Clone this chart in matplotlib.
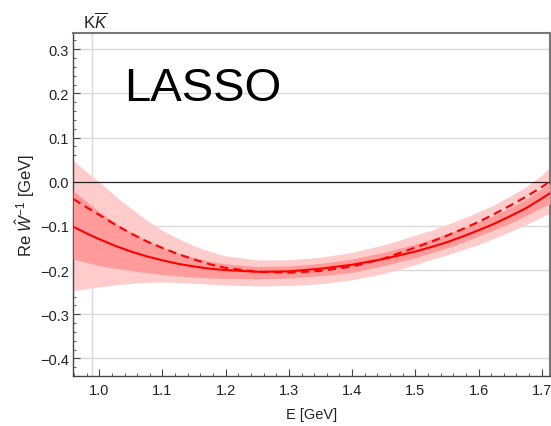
import numpy as np
import matplotlib
matplotlib.use("Agg")
import matplotlib.pyplot as plt
from matplotlib.ticker import MultipleLocator

plt.rcParams['font.family'] = ['Liberation Sans', 'DejaVu Sans']
plt.rcParams['mathtext.fontset'] = 'custom'
plt.rcParams['mathtext.rm'] = 'Liberation Sans'
plt.rcParams['mathtext.it'] = 'Liberation Sans:italic'
plt.rcParams['mathtext.bf'] = 'Liberation Sans:bold'

# Energy grid (GeV)
energy = [0.959, 0.98, 1.0, 1.025, 1.05, 1.075, 1.1, 1.125, 1.15, 1.175,
          1.2, 1.25, 1.3, 1.35, 1.4, 1.45, 1.5, 1.525, 1.55, 1.575,
          1.6, 1.625, 1.65, 1.675, 1.7, 1.713]

# Central LASSO result (solid) and alternative result (dashed)
central = [-0.102, -0.117, -0.130, -0.145, -0.158, -0.169, -0.178, -0.186, -0.192, -0.197,
           -0.200, -0.204, -0.203, -0.197, -0.188, -0.175, -0.158, -0.148, -0.137, -0.124,
           -0.110, -0.095, -0.078, -0.060, -0.038, -0.026]
alternative = [-0.039, -0.058, -0.075, -0.097, -0.117, -0.135, -0.150, -0.164, -0.176, -0.187,
               -0.195, -0.204, -0.206, -0.202, -0.192, -0.174, -0.149, -0.136, -0.122, -0.107,
               -0.091, -0.073, -0.054, -0.034, -0.012, 0.001]

# Inner uncertainty band
inner_hi = [-0.020, -0.045, -0.068, -0.093, -0.114, -0.133, -0.149, -0.162, -0.172, -0.180,
            -0.186, -0.192, -0.191, -0.185, -0.175, -0.160, -0.141, -0.130, -0.118, -0.105,
            -0.091, -0.076, -0.059, -0.040, -0.016, -0.004]
inner_lo = [-0.175, -0.183, -0.190, -0.196, -0.201, -0.206, -0.210, -0.213, -0.216, -0.218,
            -0.219, -0.220, -0.218, -0.213, -0.205, -0.190, -0.172, -0.161, -0.150, -0.137,
            -0.123, -0.109, -0.094, -0.077, -0.058, -0.050]

# Outer uncertainty band
outer_hi = [0.048, 0.022, 0.000, -0.032, -0.060, -0.087, -0.110, -0.129, -0.145, -0.158,
            -0.168, -0.177, -0.177, -0.171, -0.160, -0.143, -0.121, -0.110, -0.097, -0.083,
            -0.068, -0.052, -0.032, -0.012, 0.015, 0.033]
outer_lo = [-0.247, -0.242, -0.238, -0.234, -0.230, -0.228, -0.227, -0.228, -0.230, -0.232,
            -0.234, -0.236, -0.235, -0.231, -0.222, -0.208, -0.188, -0.176, -0.166, -0.154,
            -0.142, -0.128, -0.113, -0.097, -0.080, -0.072]

threshold = 0.988  # K Kbar threshold

x_ticks = [1.0, 1.1, 1.2, 1.3, 1.4, 1.5, 1.6, 1.7]
y_ticks = [-0.4, -0.3, -0.2, -0.1, 0.0, 0.1, 0.2, 0.3]

fig = plt.figure(figsize=(5.51, 4.27), dpi=100)
ax = fig.add_axes([73.3 / 551, 50 / 427, (550 - 73.3) / 551, (377 - 33.7) / 427])

ax.set_xlim(0.959, 1.713)
ax.set_ylim(-0.44, 0.3375)

# grid lines
for yv in y_ticks:
    if yv != 0.0:
        ax.axhline(yv, color='#d9d9d9', lw=1.0, zorder=0)
ax.axvline(threshold, color='#d9d9d9', lw=1.0, zorder=0)

ax.fill_between(energy, outer_lo, outer_hi, color='#ffcccc', lw=0, zorder=2)
ax.fill_between(energy, inner_lo, inner_hi, color='#ff9b9b', lw=0, zorder=3)
ax.axhline(0.0, color='#222222', lw=0.9, zorder=3.5)
ax.plot(energy, central, color='#ff0000', lw=1.5, zorder=4)
ax.plot(energy, alternative, color='#ff0000', lw=1.5, ls=(0, (4, 2.5)), zorder=4)

ax.set_xticks(x_ticks)
ax.set_xticklabels([f'{v:.1f}' for v in x_ticks])
ax.set_yticks(y_ticks)
ax.set_yticklabels([f'{v:.1f}'.replace('-', '\u2212') for v in y_ticks])
ax.xaxis.set_minor_locator(MultipleLocator(0.02))
ax.yaxis.set_minor_locator(MultipleLocator(0.02))
ax.tick_params(which='both', direction='in', top=False, right=False,
               color='#444444', labelsize=10.5, labelcolor='#222222')
ax.tick_params(which='major', length=5, width=0.8)
ax.tick_params(axis='y', which='major', pad=3)
ax.tick_params(axis='x', which='major', pad=5)
ax.tick_params(which='minor', length=2.5, width=0.6)

for side in ['left', 'bottom']:
    ax.spines[side].set_color('#444444')
    ax.spines[side].set_linewidth(1.0)
for side in ['top', 'right']:
    ax.spines[side].set_color('#777777')
    ax.spines[side].set_linewidth(1.5)

ax.set_xlabel('E [GeV]', fontsize=10.5, color='#222222', labelpad=7)
ax.set_ylabel(r'Re $\hat{W}^{-1}$ [GeV]', fontsize=12, color='#222222', labelpad=2)

fig.text(83 / 551, 1 - 22 / 427, r'K$\overline{K}$', fontsize=12,
         color='#222222', ha='left', va='center')
ax.text(124 / 551, 1 - 101 / 427, 'LASSO', transform=fig.transFigure,
        fontsize=34, color='black', ha='left', va='baseline', zorder=6)

fig.savefig('out.png', dpi=100)
